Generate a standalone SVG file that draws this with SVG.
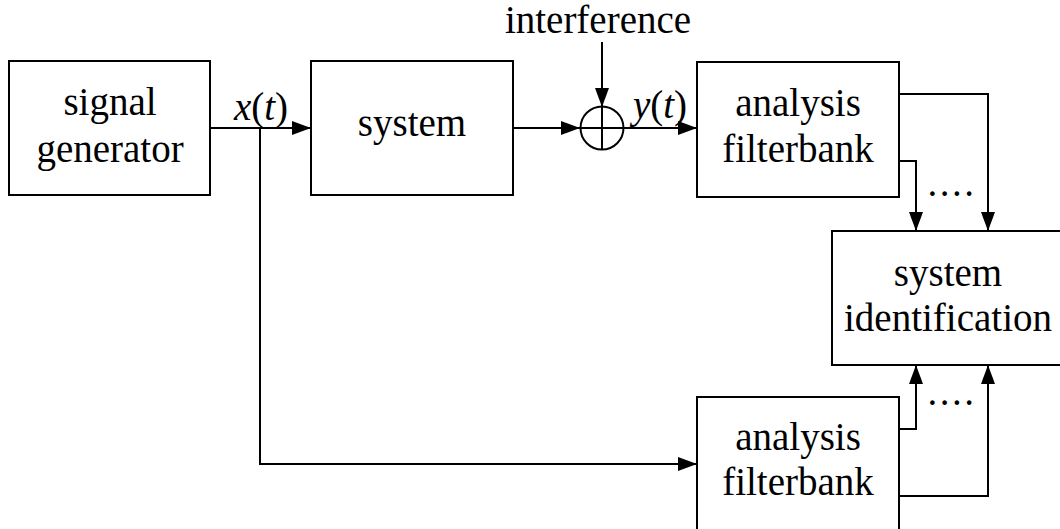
<svg xmlns="http://www.w3.org/2000/svg" width="1060" height="529" viewBox="0 0 1060 529">
  <style>
    .box { fill: #ffffff; stroke: #000000; stroke-width: 2; }
    .wire { fill: none; stroke: #000000; stroke-width: 2; marker-end: url(#arrow); }
    .plain { fill: none; stroke: #000000; stroke-width: 2; }
    text { font-family: "Liberation Serif", "Times New Roman", serif; font-size: 39px; fill: #000000; text-anchor: middle; }
    .math { font-style: italic; }
    .dots { letter-spacing: 2.5px; }
  </style>
  <defs>
    <marker id="arrow" markerUnits="userSpaceOnUse" markerWidth="19" markerHeight="14" refX="19" refY="7" orient="auto">
      <path d="M0,0 L19,7 L0,14 Z" fill="#000000"/>
    </marker>
  </defs>

  <rect width="1060" height="529" fill="#ffffff"/>

  <!-- connectors -->
  <g id="connectors">
    <path class="wire" d="M210,128 H311"/>
    <path class="wire" d="M260,128 V464 H697"/>
    <path class="wire" d="M513,128 H580"/>
    <path class="wire" d="M602,42 V107"/>
    <path class="wire" d="M623,128 H697"/>
    <path class="wire" d="M899,94 H988 V231"/>
    <path class="wire" d="M899,161 H916 V231"/>
    <path class="wire" d="M899,429 H916 V365"/>
    <path class="wire" d="M899,496 H988 V365"/>
    <text x="261" y="120"><tspan class="math">x</tspan>(<tspan class="math">t</tspan>)</text>
    <text x="660" y="118"><tspan class="math">y</tspan>(<tspan class="math">t</tspan>)</text>
    <text class="dots" x="952" y="196">....</text>
    <text class="dots" x="952" y="405">....</text>
  </g>

  <g id="signal-generator">
    <rect class="box" x="9" y="61" width="201" height="134"/>
    <text x="110" y="115">signal</text>
    <text x="110" y="162">generator</text>
  </g>

  <g id="system">
    <rect class="box" x="311" y="61" width="202" height="134"/>
    <text x="412" y="136">system</text>
  </g>

  <g id="interference">
    <text x="598" y="33">interference</text>
  </g>

  <g id="summer">
    <circle class="plain" cx="602" cy="128" r="21.5"/>
    <path class="plain" d="M580.5,128 H623.5 M602,106.5 V149.5"/>
  </g>

  <g id="filterbank-upper">
    <rect class="box" x="697" y="62" width="202" height="135"/>
    <text x="798" y="116">analysis</text>
    <text x="798" y="162">filterbank</text>
  </g>

  <g id="system-identification">
    <rect class="box" x="832" y="231" width="240" height="134"/>
    <text x="948" y="286">system</text>
    <text x="948" y="331">identification</text>
  </g>

  <g id="filterbank-lower">
    <rect class="box" x="697" y="397" width="202" height="150"/>
    <text x="798" y="450">analysis</text>
    <text x="798" y="495">filterbank</text>
  </g>
</svg>
